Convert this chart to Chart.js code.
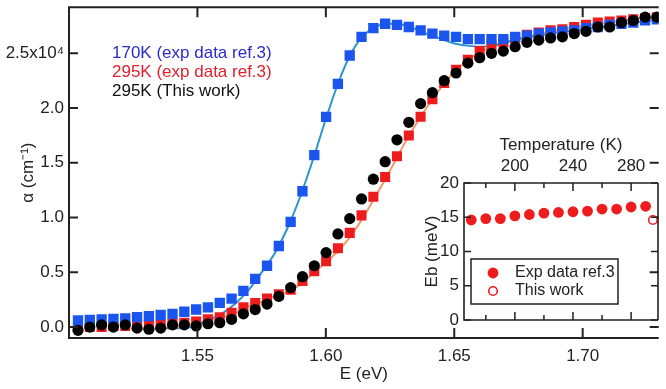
<!DOCTYPE html>
<html>
<head>
<meta charset="utf-8">
<script src="https://cdn.jsdelivr.net/npm/chart.js@4.4.1/dist/chart.umd.min.js"></script>
<style>
  html, body { margin: 0; padding: 0; background: #fff; }
  #wrap { position: relative; width: 666px; height: 389px; }
  #main { position: absolute; left: 0; top: 0; }
  #inset { position: absolute; left: 405px; top: 130px; }
</style>
</head>
<body>
<div id="wrap">
  <canvas id="main" width="666" height="389"></canvas>
  <canvas id="inset" width="261" height="205"></canvas>
</div>
<script>
// photon energy (eV) of the measured points
const energy = [
  1.5035, 1.5081, 1.5127, 1.5173, 1.5219, 1.5265, 1.5311, 1.5357, 1.5403, 1.5449,
  1.5495, 1.5541, 1.5587, 1.5633, 1.5679, 1.5725, 1.5771, 1.5817, 1.5863, 1.5909,
  1.5955, 1.6001, 1.6047, 1.6093, 1.6139, 1.6185, 1.6231, 1.6277, 1.6323, 1.6369,
  1.6415, 1.6461, 1.6507, 1.6553, 1.6599, 1.6645, 1.6691, 1.6737, 1.6783, 1.6829,
  1.6875, 1.6921, 1.6967, 1.7013, 1.7059, 1.7105, 1.7151, 1.7197, 1.7243, 1.7289
];
// absorption, units of 1e4 cm^-1
const exp170 = [
  0.06, 0.065, 0.07, 0.075, 0.08, 0.09, 0.10, 0.11, 0.12, 0.14,
  0.16, 0.18, 0.22, 0.26, 0.33, 0.44, 0.56, 0.74, 0.96, 1.24,
  1.57, 1.92, 2.22, 2.48, 2.65, 2.73, 2.77, 2.76, 2.74, 2.71,
  2.68, 2.66, 2.65, 2.63, 2.63, 2.63, 2.63, 2.65, 2.66, 2.68,
  2.69, 2.70, 2.71, 2.73, 2.74, 2.76, 2.77, 2.78, 2.80, 2.81
];
const exp295 = [
  0.0, 0.0, 0.0, 0.01, 0.01, 0.01, 0.02, 0.02, 0.03, 0.04,
  0.05, 0.07, 0.09, 0.13, 0.18, 0.22, 0.26, 0.30, 0.34, 0.42,
  0.51, 0.60, 0.72, 0.86, 1.02, 1.19, 1.37, 1.56, 1.75, 1.92,
  2.08, 2.23, 2.35, 2.44, 2.52, 2.57, 2.60, 2.64, 2.67, 2.69,
  2.71, 2.72, 2.74, 2.76, 2.78, 2.79, 2.80, 2.81, 2.82, 2.83
];
const work295 = [
  -0.03, 0.00, 0.02, 0.00, 0.02, -0.01, -0.02, -0.01, 0.02, 0.02,
  0.01, 0.03, 0.04, 0.07, 0.12, 0.16, 0.21, 0.28, 0.36, 0.46,
  0.56, 0.68, 0.85, 0.99, 1.17, 1.35, 1.51, 1.71, 1.87, 2.04,
  2.14, 2.25, 2.32, 2.41, 2.46, 2.50, 2.52, 2.56, 2.60, 2.62,
  2.64, 2.65, 2.68, 2.70, 2.74, 2.74, 2.78, 2.80, 2.83, 2.83
];

// fitted curves
const fit170E = [1.535, 1.545, 1.550, 1.555, 1.560, 1.565, 1.570, 1.575, 1.580, 1.585,
  1.590, 1.595, 1.600, 1.605, 1.610, 1.615, 1.620, 1.625, 1.630, 1.635, 1.640, 1.645,
  1.650, 1.655, 1.660, 1.665, 1.670, 1.675, 1.680, 1.690, 1.700, 1.710, 1.720, 1.730];
const fit170 = [-0.01, -0.01, 0.02, 0.07, 0.13, 0.22, 0.34, 0.50, 0.67, 0.90,
  1.19, 1.53, 1.90, 2.24, 2.51, 2.67, 2.75, 2.77, 2.76, 2.72, 2.67, 2.63,
  2.59, 2.57, 2.56, 2.57, 2.60, 2.63, 2.65, 2.69, 2.72, 2.75, 2.78, 2.81];
const fit295E = [1.540, 1.550, 1.555, 1.560, 1.565, 1.570, 1.575, 1.580, 1.585, 1.590,
  1.595, 1.600, 1.605, 1.610, 1.615, 1.620, 1.625, 1.630, 1.635, 1.640, 1.645, 1.650,
  1.655, 1.660, 1.665, 1.670, 1.680, 1.690, 1.700, 1.710, 1.720, 1.730];
const fit295 = [0.0, 0.04, 0.06, 0.09, 0.13, 0.19, 0.23, 0.28, 0.32, 0.39,
  0.49, 0.59, 0.70, 0.84, 1.02, 1.22, 1.43, 1.65, 1.85, 2.03, 2.19, 2.33,
  2.43, 2.51, 2.56, 2.60, 2.66, 2.71, 2.75, 2.78, 2.81, 2.84];

const eTicks = [1.55, 1.60, 1.65, 1.70];
const aTicks = [0, 0.5, 1.0, 1.5, 2.0, 2.5];
const aTickLabels = ['0.0', '0.5', '1.0', '1.5', '2.0', '2.5x10\u2074'];
const seriesLabels = ['170K (exp data ref.3)', '295K (exp data ref.3)', '295K (This work)'];

// inset: binding energy vs temperature
const tempK = [170, 180, 190, 200, 210, 220, 230, 240, 250, 260, 270, 280, 290];
const ebExp = [14.6, 14.8, 14.8, 15.2, 15.4, 15.6, 15.7, 15.8, 15.9, 16.2, 16.2, 16.5, 16.6];
const workT = [295];
const workEb = [14.6];
const tMajor = [200, 240, 280];
const tMinor = [180, 220, 260];
const ebTicks = [0, 5, 10, 15, 20];
const insetLabels = ['Exp data ref.3', 'This work'];

const FONT = 'Liberation Sans, Arial, sans-serif';
const INK = '#222';
const BLUE = '#1b55f0', RED = '#ee1c1c', BLACK = '#000';

const pts = (xs, ys) => xs.map((x, i) => ({ x, y: ys[i] }));

// fixed axis box sizes, no extra room for edge labels
const fixH = h => s => { s.height = h; s.paddingLeft = 0; s.paddingRight = 0; };
const fixW = w => s => { s.width = w; s.paddingTop = 0; s.paddingBottom = 0; };

// frame + inward ticks
const framePlugin = {
  id: 'frame',
  afterDraw(chart, args, o) {
    const { ctx, chartArea: a } = chart;
    ctx.save();
    ctx.strokeStyle = INK;
    ctx.lineWidth = o.lw;
    ctx.beginPath();
    if (o.sides.includes('l')) { ctx.moveTo(a.left, a.top); ctx.lineTo(a.left, a.bottom); }
    if (o.sides.includes('b')) { ctx.moveTo(a.left - o.lw / 2, a.bottom); ctx.lineTo(a.right, a.bottom); }
    if (o.sides.includes('t')) { ctx.moveTo(a.left - o.lw / 2, a.top); ctx.lineTo(a.right, a.top); }
    if (o.sides.includes('r')) { ctx.moveTo(a.right, a.top); ctx.lineTo(a.right, a.bottom); }
    ctx.stroke();
    ctx.lineWidth = o.tw;
    ctx.beginPath();
    o.xticks.forEach(([vals, len]) => {
      vals.forEach(v => {
        const px = chart.scales.x.getPixelForValue(v);
        ctx.moveTo(px, a.bottom); ctx.lineTo(px, a.bottom - len);
        ctx.moveTo(px, a.top); ctx.lineTo(px, a.top + len);
      });
    });
    o.yticks.forEach(([vals, len]) => {
      vals.forEach(v => {
        const py = chart.scales.y.getPixelForValue(v);
        ctx.moveTo(a.left, py); ctx.lineTo(a.left + len, py);
        ctx.moveTo(a.right, py); ctx.lineTo(a.right - len, py);
      });
    });
    ctx.stroke();
    ctx.restore();
  }
};

// coloured text legend in the main plot
const textLegend = {
  id: 'textLegend',
  afterDraw(chart, args, o) {
    const ctx = chart.ctx;
    ctx.save();
    ctx.font = '17px ' + FONT;
    ctx.textBaseline = 'middle';
    o.items.forEach((it, i) => {
      ctx.fillStyle = it.color;
      ctx.fillText(it.text, o.x, o.y + i * o.gap);
    });
    ctx.restore();
  }
};

// boxed legend in the inset
const boxLegend = {
  id: 'boxLegend',
  afterDraw(chart, args, o) {
    const ctx = chart.ctx;
    ctx.save();
    ctx.strokeStyle = INK;
    ctx.lineWidth = 1.5;
    ctx.strokeRect(o.x, o.y, o.w, o.h);
    ctx.font = '16px ' + FONT;
    ctx.textBaseline = 'middle';
    chart.data.datasets.forEach((ds, i) => {
      const cy = o.y + 14 + i * 18;
      ctx.fillStyle = ds.pointBackgroundColor;
      ctx.strokeStyle = ds.pointBorderColor;
      ctx.lineWidth = ds.pointBorderWidth;
      ctx.beginPath();
      ctx.arc(o.x + 22, cy, ds.pointRadius, 0, Math.PI * 2);
      ctx.fill();
      if (ds.pointBorderWidth) ctx.stroke();
      ctx.fillStyle = INK;
      ctx.fillText(ds.label, o.x + 44, cy);
    });
    ctx.restore();
  }
};

new Chart(document.getElementById('main'), {
  type: 'scatter',
  data: {
    datasets: [
      { label: seriesLabels[2], data: pts(energy, work295), pointStyle: 'circle', pointRadius: 5.6,
        pointBorderWidth: 0, pointBackgroundColor: BLACK, pointBorderColor: BLACK },
      { label: seriesLabels[0], data: pts(energy, exp170), pointStyle: 'rect', pointRadius: 7.3,
        pointBorderWidth: 0, pointBackgroundColor: BLUE, pointBorderColor: BLUE },
      { label: seriesLabels[1], data: pts(energy, exp295), pointStyle: 'rect', pointRadius: 7.1,
        pointBorderWidth: 0, pointBackgroundColor: RED, pointBorderColor: RED },
      { label: 'fit 170K', data: pts(fit170E, fit170), showLine: true, pointRadius: 0,
        borderColor: '#2a96cc', borderWidth: 2, cubicInterpolationMode: 'monotone' },
      { label: 'fit 295K', data: pts(fit295E, fit295), showLine: true, pointRadius: 0,
        borderColor: '#f09a6c', borderWidth: 2, cubicInterpolationMode: 'monotone' }
    ]
  },
  options: {
    responsive: false,
    animation: false,
    layout: { padding: { top: 3, right: 0, left: 0, bottom: 0 } },
    scales: {
      x: {
        type: 'linear', min: 1.5, max: 1.7296,
        afterBuildTicks: s => { s.ticks = eTicks.map(v => ({ value: v })); },
        afterFit: fixH(51),
        grid: { display: false, drawTicks: false },
        border: { display: false },
        ticks: { font: { family: FONT, size: 17 }, color: INK, padding: 8, maxRotation: 0, autoSkip: false,
          callback: v => v.toFixed(2) },
        title: { display: true, text: 'E (eV)', font: { family: FONT, size: 17 }, color: INK,
          padding: { top: 0, bottom: 4 } }
      },
      y: {
        type: 'linear', min: -0.1, max: 2.92,
        afterBuildTicks: s => { s.ticks = aTicks.map(v => ({ value: v })); },
        afterFit: fixW(69),
        grid: { display: false, drawTicks: false },
        border: { display: false },
        ticks: { font: { family: FONT, size: 17 }, color: INK, padding: 5, autoSkip: false,
          callback: (v, i) => aTickLabels[i] },
        title: { display: true, text: '\u03b1 (cm\u207b\u00b9)', font: { family: FONT, size: 17 }, color: INK,
          padding: { top: 18, bottom: 0 } }
      }
    },
    plugins: {
      legend: { display: false },
      tooltip: { enabled: false },
      frame: { lw: 2, tw: 2, sides: 'lbt', xticks: [[eTicks, 10]], yticks: [[aTicks, 9]] },
      textLegend: {
        x: 112, y: 53, gap: 19.3,
        items: [
          { text: seriesLabels[0], color: '#2b2bcc' },
          { text: seriesLabels[1], color: '#e0202a' },
          { text: seriesLabels[2], color: '#111' }
        ]
      }
    }
  },
  plugins: [framePlugin, textLegend]
});

new Chart(document.getElementById('inset'), {
  type: 'scatter',
  data: {
    datasets: [
      { label: insetLabels[0], data: pts(tempK, ebExp), pointStyle: 'circle', pointRadius: 5.4,
        pointBorderWidth: 0, pointBackgroundColor: RED, pointBorderColor: RED },
      { label: insetLabels[1], data: pts(workT, workEb), pointStyle: 'circle', pointRadius: 4.3,
        pointBorderWidth: 1.6, pointBackgroundColor: '#fff', pointBorderColor: RED }
    ]
  },
  options: {
    responsive: false,
    animation: false,
    layout: { padding: { top: 0, right: 8, left: 0, bottom: 15 } },
    scales: {
      x: {
        type: 'linear', position: 'top', min: 165, max: 298.5,
        afterBuildTicks: s => { s.ticks = tMajor.map(v => ({ value: v })); },
        afterFit: fixH(53),
        grid: { display: false, drawTicks: false },
        border: { display: false },
        ticks: { font: { family: FONT, size: 17 }, color: INK, padding: 6, maxRotation: 0, autoSkip: false },
        title: { display: true, text: 'Temperature (K)', font: { family: FONT, size: 17 }, color: INK,
          padding: { top: 5, bottom: 0 } }
      },
      y: {
        type: 'linear', min: 0, max: 20,
        afterBuildTicks: s => { s.ticks = ebTicks.map(v => ({ value: v })); },
        afterFit: fixW(59),
        grid: { display: false, drawTicks: false },
        border: { display: false },
        ticks: { font: { family: FONT, size: 17 }, color: INK, padding: 5, autoSkip: false },
        title: { display: true, text: 'Eb (meV)', font: { family: FONT, size: 17 }, color: INK,
          padding: { top: 17, bottom: 0 } }
      }
    },
    plugins: {
      legend: { display: false },
      tooltip: { enabled: false },
      frame: { lw: 1.6, tw: 1.5, sides: 'lbtr', xticks: [[tMajor, 8], [tMinor, 5]], yticks: [[ebTicks, 7]] },
      boxLegend: { x: 66, y: 129, w: 147, h: 45 }
    }
  },
  plugins: [framePlugin, boxLegend]
});
</script>
</body>
</html>
